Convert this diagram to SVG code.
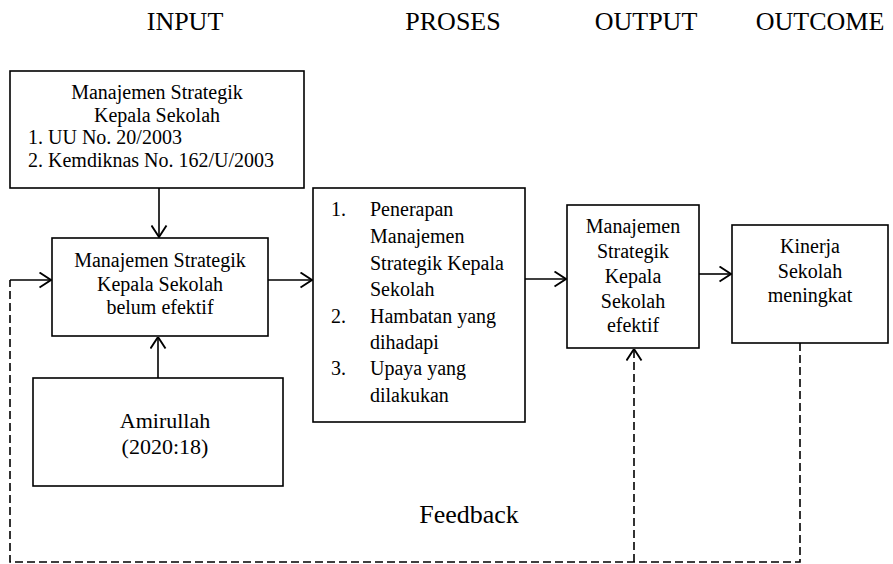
<svg xmlns="http://www.w3.org/2000/svg" width="893" height="564" viewBox="0 0 893 564" font-family="'Liberation Serif', Tinos, 'Times New Roman', serif">
<style>
text{font-family:'Liberation Serif',Tinos,'Times New Roman',serif;fill:#000}
.t{font-size:20px}
.h{font-size:26px}
.c{text-anchor:middle}
.box{fill:#fff;stroke:#000;stroke-width:1.6}
.ln{fill:none;stroke:#000;stroke-width:1.6}
.dash{fill:none;stroke:#000;stroke-width:1.6;stroke-dasharray:8 4}
</style>
<defs>
<marker id="arr" viewBox="0 0 13 17" refX="12.5" refY="8.5" markerWidth="13" markerHeight="17" markerUnits="userSpaceOnUse" orient="auto">
<path d="M1,1 L12.5,8.5 L1,16" fill="none" stroke="#000" stroke-width="1.9"/>
</marker>
</defs>
<g id="headers">
<text class="h c" x="185" y="30">INPUT</text>
<text class="h c" x="453" y="30">PROSES</text>
<text class="h c" x="646" y="30">OUTPUT</text>
<text class="h c" x="820" y="30">OUTCOME</text>
</g>
<g id="connectors">
<line class="ln" x1="159" y1="188" x2="159" y2="237" marker-end="url(#arr)"/>
<line class="ln" x1="158" y1="378" x2="158" y2="337" marker-end="url(#arr)"/>
<line class="ln" x1="268" y1="280" x2="312" y2="280" marker-end="url(#arr)"/>
<line class="ln" x1="525" y1="279" x2="566" y2="279" marker-end="url(#arr)"/>
<line class="ln" x1="699" y1="274" x2="731" y2="274" marker-end="url(#arr)"/>
<polyline class="dash" points="800,343 800,562 10,562 10,280"/>
<line class="ln" x1="10" y1="280" x2="51" y2="280" marker-end="url(#arr)"/>
<line class="dash" x1="634" y1="562" x2="634" y2="349" marker-end="url(#arr)"/>
<text class="c" x="469" y="523" style="font-size:26px">Feedback</text>
</g>
<g id="node-strategik">
<rect class="box" x="10" y="71" width="294" height="117"/>
<text class="t c" x="157" y="99">Manajemen Strategik</text>
<text class="t c" x="157" y="122">Kepala Sekolah</text>
<text class="t" x="28" y="144">1. UU No. 20/2003</text>
<text class="t" x="28" y="167">2. Kemdiknas No. 162/U/2003</text>
</g>
<g id="node-belum">
<rect class="box" x="52" y="238" width="216" height="98"/>
<text class="t c" x="160" y="267">Manajemen Strategik</text>
<text class="t c" x="160" y="291">Kepala Sekolah</text>
<text class="t c" x="160" y="314">belum efektif</text>
</g>
<g id="node-amirullah">
<rect class="box" x="33" y="378" width="250" height="108"/>
<text class="c" x="165" y="428" style="font-size:22px">Amirullah</text>
<text class="c" x="165" y="454" style="font-size:22px">(2020:18)</text>
</g>
<g id="node-proses">
<rect class="box" x="313" y="188" width="212" height="234"/>
<text class="t" x="331" y="216">1.</text>
<text class="t" x="370" y="216">Penerapan</text>
<text class="t" x="370" y="243">Manajemen</text>
<text class="t" x="370" y="270">Strategik Kepala</text>
<text class="t" x="370" y="296">Sekolah</text>
<text class="t" x="331" y="323">2.</text>
<text class="t" x="370" y="323">Hambatan yang</text>
<text class="t" x="370" y="349">dihadapi</text>
<text class="t" x="331" y="375">3.</text>
<text class="t" x="370" y="375">Upaya yang</text>
<text class="t" x="370" y="402">dilakukan</text>
</g>
<g id="node-output">
<rect class="box" x="567" y="205" width="132" height="143"/>
<text class="t c" x="633" y="233">Manajemen</text>
<text class="t c" x="633" y="258">Strategik</text>
<text class="t c" x="633" y="283">Kepala</text>
<text class="t c" x="633" y="308">Sekolah</text>
<text class="t c" x="633" y="332">efektif</text>
</g>
<g id="node-outcome">
<rect class="box" x="732" y="225" width="156" height="118"/>
<text class="t c" x="810" y="253">Kinerja</text>
<text class="t c" x="810" y="278">Sekolah</text>
<text class="t c" x="810" y="302">meningkat</text>
</g>
</svg>
